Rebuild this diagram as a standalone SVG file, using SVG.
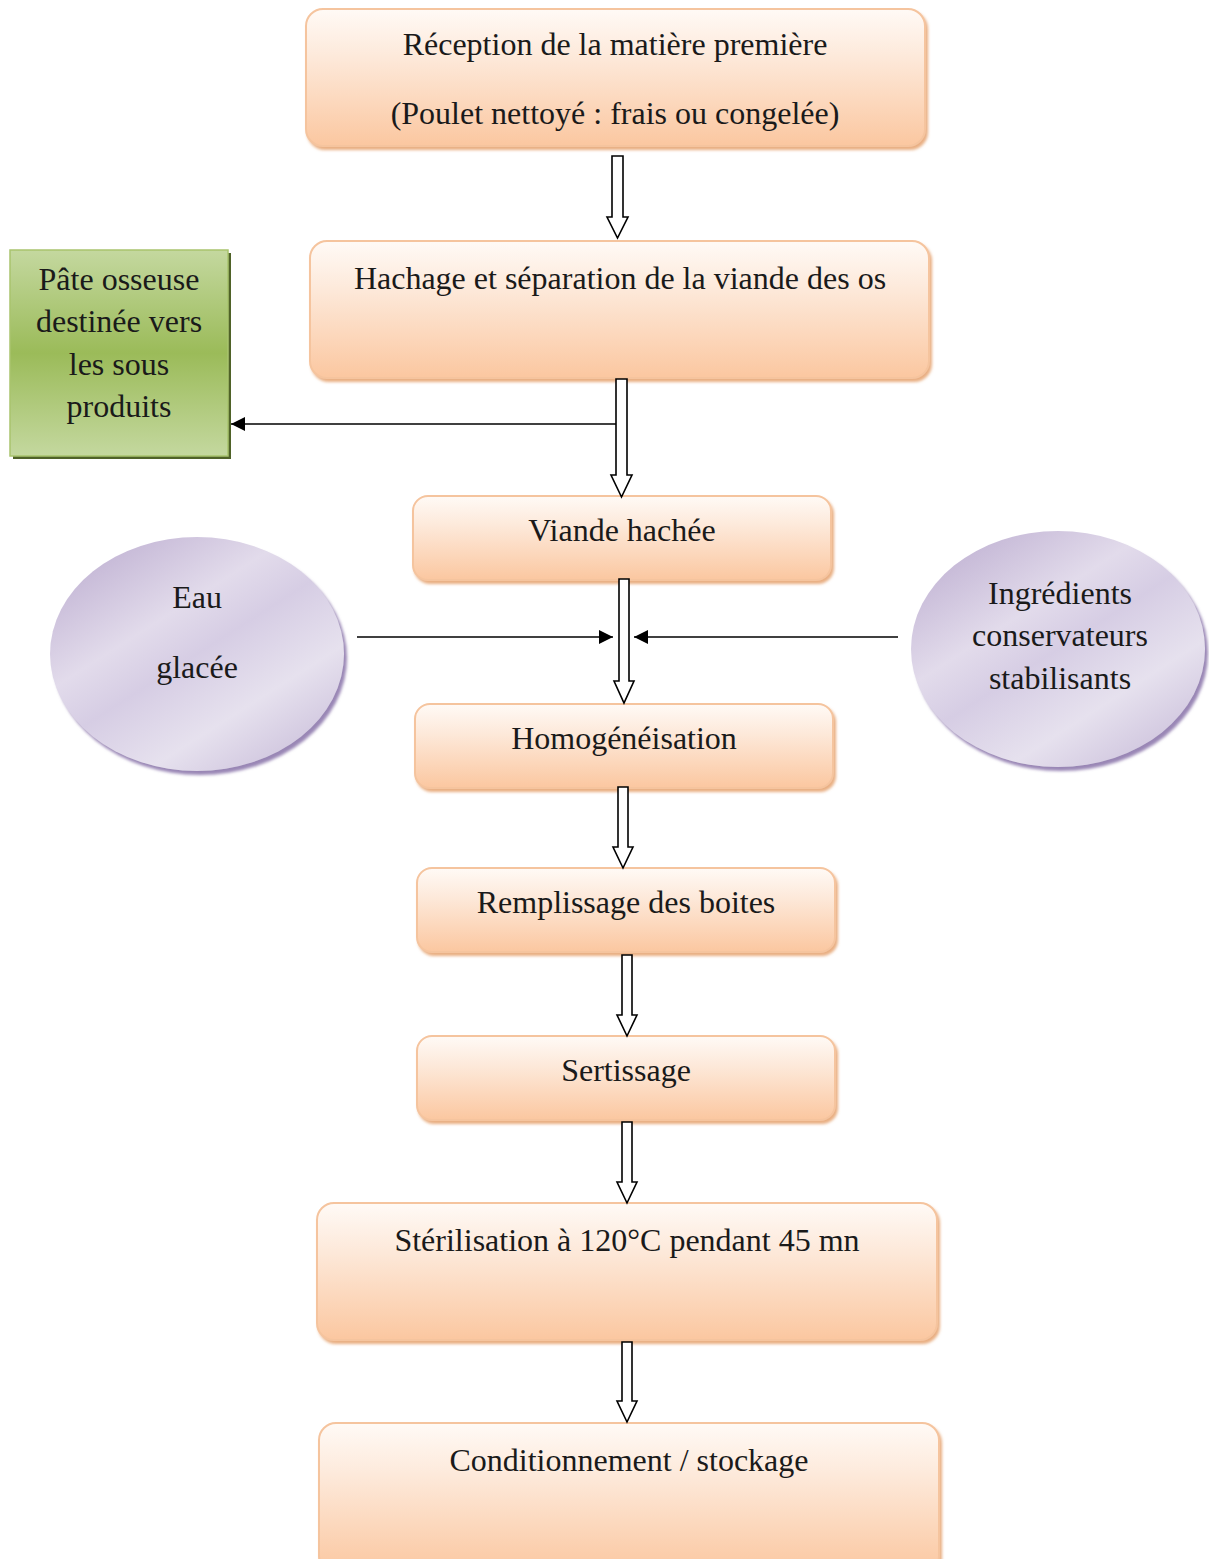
<svg xmlns="http://www.w3.org/2000/svg" width="1209" height="1559" viewBox="0 0 1209 1559">
  <defs>
    <linearGradient id="gOrange" x1="0" y1="0" x2="0" y2="1">
      <stop offset="0" stop-color="#fffaf6"/>
      <stop offset="0.35" stop-color="#fde9da"/>
      <stop offset="1" stop-color="#fbc7a0"/>
    </linearGradient>
    <linearGradient id="gGreen" x1="0" y1="0" x2="0" y2="1">
      <stop offset="0" stop-color="#c4d89f"/>
      <stop offset="0.5" stop-color="#9bbb59"/>
      <stop offset="1" stop-color="#c4d89f"/>
    </linearGradient>
    <linearGradient id="gPurple" x1="0.1" y1="0" x2="0.9" y2="1">
      <stop offset="0" stop-color="#bcadd0"/>
      <stop offset="0.35" stop-color="#e2dbeb"/>
      <stop offset="0.5" stop-color="#d6cde4"/>
      <stop offset="0.72" stop-color="#e6e1ee"/>
      <stop offset="1" stop-color="#c8bcd9"/>
    </linearGradient>
    <filter id="shOrange" x="-5%" y="-10%" width="110%" height="125%">
      <feGaussianBlur in="SourceAlpha" stdDeviation="1.5"/>
      <feOffset dx="2" dy="3" result="b"/>
      <feFlood flood-color="#e39a62" flood-opacity="0.8"/>
      <feComposite in2="b" operator="in"/>
      <feMerge><feMergeNode/><feMergeNode in="SourceGraphic"/></feMerge>
    </filter>
    <filter id="shPurple" x="-10%" y="-10%" width="125%" height="125%">
      <feGaussianBlur in="SourceAlpha" stdDeviation="1.5"/>
      <feOffset dx="3" dy="4" result="b"/>
      <feFlood flood-color="#8e79ad" flood-opacity="0.9"/>
      <feComposite in2="b" operator="in"/>
      <feMerge><feMergeNode/><feMergeNode in="SourceGraphic"/></feMerge>
    </filter>
    <marker id="tri" viewBox="0 0 10 10" refX="10" refY="5" markerWidth="14" markerHeight="14" markerUnits="userSpaceOnUse" orient="auto">
      <path d="M0,0 L10,5 L0,10 z" fill="#000"/>
    </marker>
  </defs>
  <style>
    .box { fill: url(#gOrange); stroke: #f5c49e; stroke-width: 2; filter: url(#shOrange); }
    .lbl { font-family: "Liberation Serif", "Times New Roman", serif; font-size: 32px; fill: #1a1a1a; text-anchor: middle; }
    .blk { fill: #fff; stroke: #000; stroke-width: 1.6; stroke-linejoin: miter; }
    .ln { fill: none; stroke: #000; stroke-width: 1.6; }
  </style>
  <rect width="1209" height="1559" fill="#fff"/>

  <!-- process steps -->
  <g id="reception">
    <rect class="box" x="306" y="9" width="619" height="137" rx="17"/>
    <text class="lbl" x="615" y="55">Réception de la matière première</text>
    <text class="lbl" x="615" y="124">(Poulet nettoyé : frais ou congelée)</text>
  </g>
  <g id="hachage">
    <rect class="box" x="310" y="241" width="619" height="137" rx="17"/>
    <text class="lbl" x="620" y="289">Hachage et séparation de la viande des os</text>
  </g>
  <g id="viande">
    <rect class="box" x="413" y="496" width="418" height="84" rx="15"/>
    <text class="lbl" x="622" y="541">Viande hachée</text>
  </g>
  <g id="homogeneisation">
    <rect class="box" x="415" y="704" width="418" height="84" rx="15"/>
    <text class="lbl" x="624" y="749">Homogénéisation</text>
  </g>
  <g id="remplissage">
    <rect class="box" x="417" y="868" width="418" height="84" rx="15"/>
    <text class="lbl" x="626" y="913">Remplissage des boites</text>
  </g>
  <g id="sertissage">
    <rect class="box" x="417" y="1036" width="418" height="84" rx="15"/>
    <text class="lbl" x="626" y="1081">Sertissage</text>
  </g>
  <g id="sterilisation">
    <rect class="box" x="317" y="1203" width="620" height="137" rx="17"/>
    <text class="lbl" x="627" y="1251">Stérilisation à 120°C pendant 45 mn</text>
  </g>
  <g id="conditionnement">
    <rect class="box" x="319" y="1423" width="620" height="150" rx="17"/>
    <text class="lbl" x="629" y="1471">Conditionnement / stockage</text>
  </g>

  <!-- by-product -->
  <g id="pate">
    <rect x="13" y="253" width="218" height="206" fill="#4f6228"/>
    <rect x="10" y="250" width="218" height="206" fill="url(#gGreen)" stroke="#a9c46e" stroke-width="1.5"/>
    <text class="lbl" x="119" y="290">Pâte osseuse</text>
    <text class="lbl" x="119" y="332">destinée vers</text>
    <text class="lbl" x="119" y="375">les sous</text>
    <text class="lbl" x="119" y="417">produits</text>
  </g>

  <!-- inputs -->
  <g id="eau">
    <ellipse cx="197" cy="654" rx="147" ry="117" fill="url(#gPurple)" filter="url(#shPurple)"/>
    <text class="lbl" x="197" y="608">Eau</text>
    <text class="lbl" x="197" y="678">glacée</text>
  </g>
  <g id="ingredients">
    <ellipse cx="1058" cy="649" rx="147" ry="118" fill="url(#gPurple)" filter="url(#shPurple)"/>
    <text class="lbl" x="1060" y="604">Ingrédients</text>
    <text class="lbl" x="1060" y="646">conservateurs</text>
    <text class="lbl" x="1060" y="689">stabilisants</text>
  </g>

  <!-- connectors -->
  <g id="connectors">
    <path class="blk" d="M612,156 H623 V217 H628 L617.5,238 L607,217 H612 Z"/>
    <path class="ln" d="M617,424 H231" marker-end="url(#tri)"/>
    <path class="blk" d="M616,379 H627 V475 H632 L621.5,497 L611,475 H616 Z"/>
    <path class="ln" d="M357,637 H613" marker-end="url(#tri)"/>
    <path class="ln" d="M898,637 H634" marker-end="url(#tri)"/>
    <path class="blk" d="M619,579 H629 V681 H634 L624,703 L614,681 H619 Z"/>
    <path class="blk" d="M618,787 H628 V847 H633 L623,868 L613,847 H618 Z"/>
    <path class="blk" d="M622,955 H632 V1015 H637 L627,1036 L617,1015 H622 Z"/>
    <path class="blk" d="M622,1122 H632 V1182 H637 L627,1203 L617,1182 H622 Z"/>
    <path class="blk" d="M622,1342 H632 V1401 H637 L627,1422 L617,1401 H622 Z"/>
  </g>
</svg>
